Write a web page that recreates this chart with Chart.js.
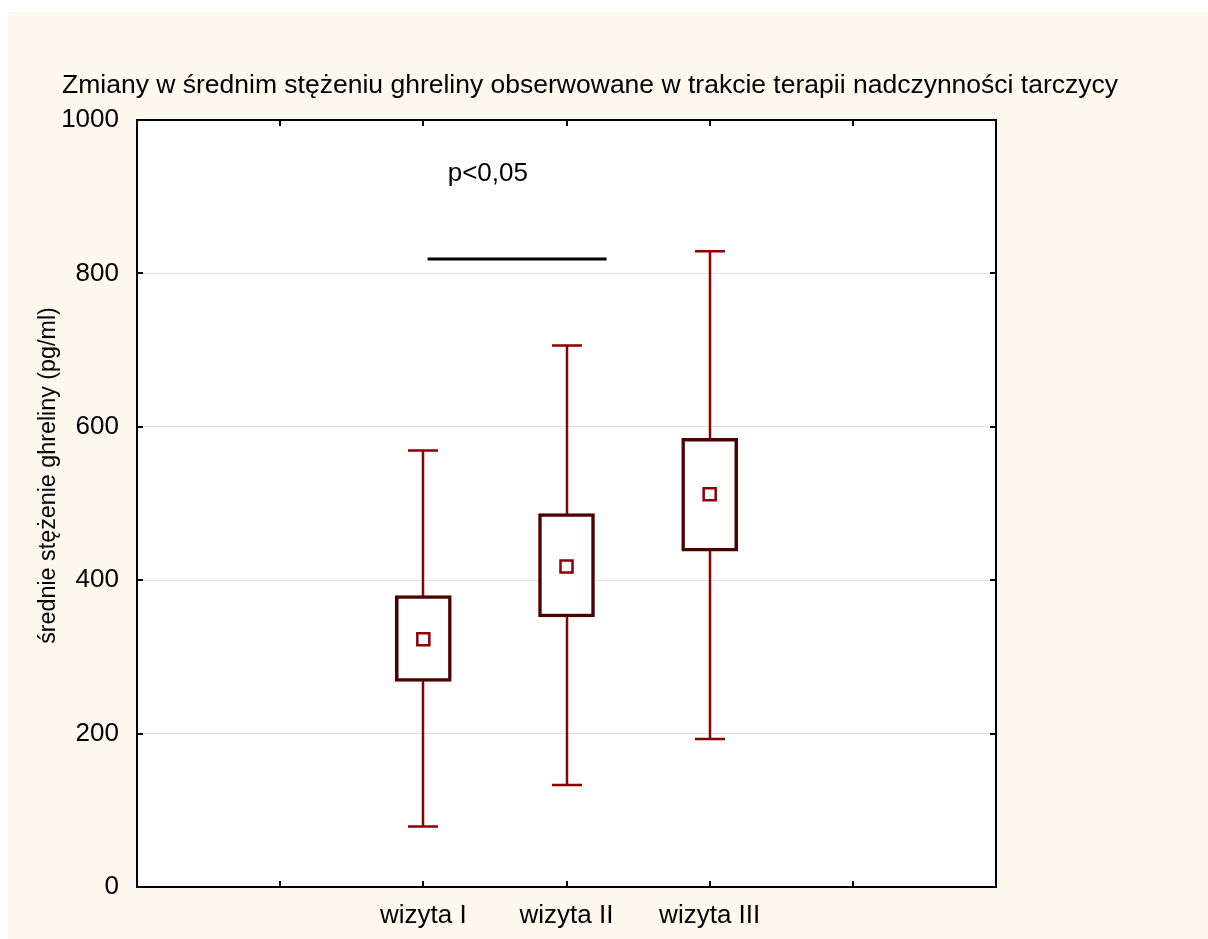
<!DOCTYPE html>
<html><head><meta charset="utf-8">
<script src="https://cdn.jsdelivr.net/npm/chart.js@4"></script>
<style>html,body{margin:0;padding:0;background:#fff;}canvas{display:block;}</style>
</head><body>
<canvas id="c" width="1208" height="939"></canvas>
<script>
const categories = ['wizyta I', 'wizyta II', 'wizyta III'];
const means = [323, 418, 512];
const boxLow = [268, 352, 438];
const boxHigh = [380, 487, 585];
const whiskerLow = [79, 133, 193];
const whiskerHigh = [569, 706, 829];
const yTickValues = [0, 200, 400, 600, 800, 1000];
const chartTitle = 'Zmiany w średnim stężeniu ghreliny obserwowane w trakcie terapii nadczynności tarczycy';
const yTitle = 'średnie stężenie ghreliny (pg/ml)';
const sigText = 'p<0,05';
const sigFrom = 2.03, sigTo = 3.28, sigValue = 819;
const sigTextX = 2.17, sigTextValue = 920;

const PAD = 2;
const labels = ['', '', ...categories, '', ''];
const pad = arr => labels.map((_, i) => (i >= PAD && i < PAD + categories.length) ? arr(i - PAD) : null);

const FONT = '"Liberation Sans", Arial, sans-serif';
const BOX_COL = '#4d0000';
const WH_COL = '#8b0000';

const decor = {
  id: 'decor',
  beforeDraw(chart) {
    const ctx = chart.ctx;
    ctx.save();
    ctx.fillStyle = '#ffffff';
    ctx.fillRect(0, 0, chart.width, chart.height);
    ctx.fillStyle = '#fdf9ef';
    ctx.fillRect(8, 12, chart.width - 8, chart.height - 12);
    const a = chart.chartArea;
    ctx.fillStyle = '#ffffff';
    ctx.fillRect(a.left, a.top, a.right - a.left, a.bottom - a.top);
    ctx.restore();
  },
  beforeDatasetsDraw(chart) {
    const ctx = chart.ctx, xs = chart.scales.x, ys = chart.scales.y;
    ctx.save();
    ctx.strokeStyle = WH_COL;
    ctx.lineWidth = 2.5;
    categories.forEach((c, k) => {
      const x = Math.round(xs.getPixelForValue(k + PAD));
      const yl = ys.getPixelForValue(whiskerLow[k]);
      const yh = ys.getPixelForValue(whiskerHigh[k]);
      ctx.beginPath();
      ctx.moveTo(x, yl); ctx.lineTo(x, yh);
      ctx.moveTo(x - 15, yl); ctx.lineTo(x + 15, yl);
      ctx.moveTo(x - 15, yh); ctx.lineTo(x + 15, yh);
      ctx.stroke();
    });
    ctx.restore();
  },
  afterDraw(chart) {
    const ctx = chart.ctx, xs = chart.scales.x, ys = chart.scales.y, a = chart.chartArea;
    ctx.save();
    ctx.strokeStyle = '#000';
    ctx.lineWidth = 2;
    ctx.strokeRect(a.left, a.top, a.right - a.left, a.bottom - a.top);
    ctx.beginPath();
    yTickValues.slice(1, -1).forEach(v => {
      const y = Math.round(ys.getPixelForValue(v));
      ctx.moveTo(a.left, y); ctx.lineTo(a.left + 6, y);
      ctx.moveTo(a.right, y); ctx.lineTo(a.right - 6, y);
    });
    for (let i = 1; i < labels.length - 1; i++) {
      const x = Math.round(xs.getPixelForValue(i));
      ctx.moveTo(x, a.bottom); ctx.lineTo(x, a.bottom - 6);
      ctx.moveTo(x, a.top); ctx.lineTo(x, a.top + 6);
    }
    ctx.stroke();
    ctx.lineWidth = 3;
    ctx.beginPath();
    const sy = Math.round(ys.getPixelForValue(sigValue));
    ctx.moveTo(xs.getPixelForValue(sigFrom), sy);
    ctx.lineTo(xs.getPixelForValue(sigTo), sy);
    ctx.stroke();
    ctx.fillStyle = '#000';
    ctx.font = '26px ' + FONT;
    ctx.textBaseline = 'alphabetic';
    ctx.textAlign = 'left';
    ctx.fillText(sigText, xs.getPixelForValue(sigTextX), ys.getPixelForValue(sigTextValue));
    ctx.font = '26.5px ' + FONT;
    ctx.fillText(chartTitle, 62, 93);
    ctx.font = '23.3px ' + FONT;
    ctx.translate(55, 475.5);
    ctx.rotate(-Math.PI / 2);
    ctx.textAlign = 'center';
    ctx.fillText(yTitle, 0, 0);
    ctx.restore();
  }
};

new Chart(document.getElementById('c'), {
  type: 'bar',
  data: {
    labels: labels,
    datasets: [
      {
        type: 'line',
        data: pad(k => means[k]),
        showLine: false,
        pointStyle: 'rect',
        pointRadius: 8.5,
        pointBorderWidth: 2.5,
        pointBorderColor: WH_COL,
        pointBackgroundColor: '#ffffff',
        order: 1
      },
      {
        type: 'bar',
        data: pad(k => [boxLow[k], boxHigh[k]]),
        backgroundColor: '#ffffff',
        borderColor: BOX_COL,
        borderWidth: 3.5,
        borderSkipped: false,
        barThickness: 56,
        order: 2
      }
    ]
  },
  options: {
    responsive: false,
    animation: false,
    events: [],
    layout: { padding: { left: 0, top: 120, right: 212, bottom: 0 } },
    plugins: { legend: { display: false }, tooltip: { enabled: false }, title: { display: false } },
    scales: {
      x: {
        type: 'category',
        offset: false,
        grid: { display: false, drawTicks: false },
        border: { display: false },
        ticks: { autoSkip: false, maxRotation: 0, color: '#000', font: { family: FONT, size: 26 }, padding: 13 },
        afterFit(s) { s.height = 52; }
      },
      y: {
        min: 0, max: 1000,
        afterBuildTicks(s) { s.ticks = yTickValues.map(v => ({ value: v })); },
        grid: { color: '#e0e0e0', lineWidth: 1, drawTicks: false },
        border: { display: false },
        ticks: { color: '#000', font: { family: FONT, size: 26 }, padding: 18, callback: v => String(v) },
        afterFit(s) { s.width = 137; }
      }
    }
  },
  plugins: [decor]
});
</script>
</body></html>
